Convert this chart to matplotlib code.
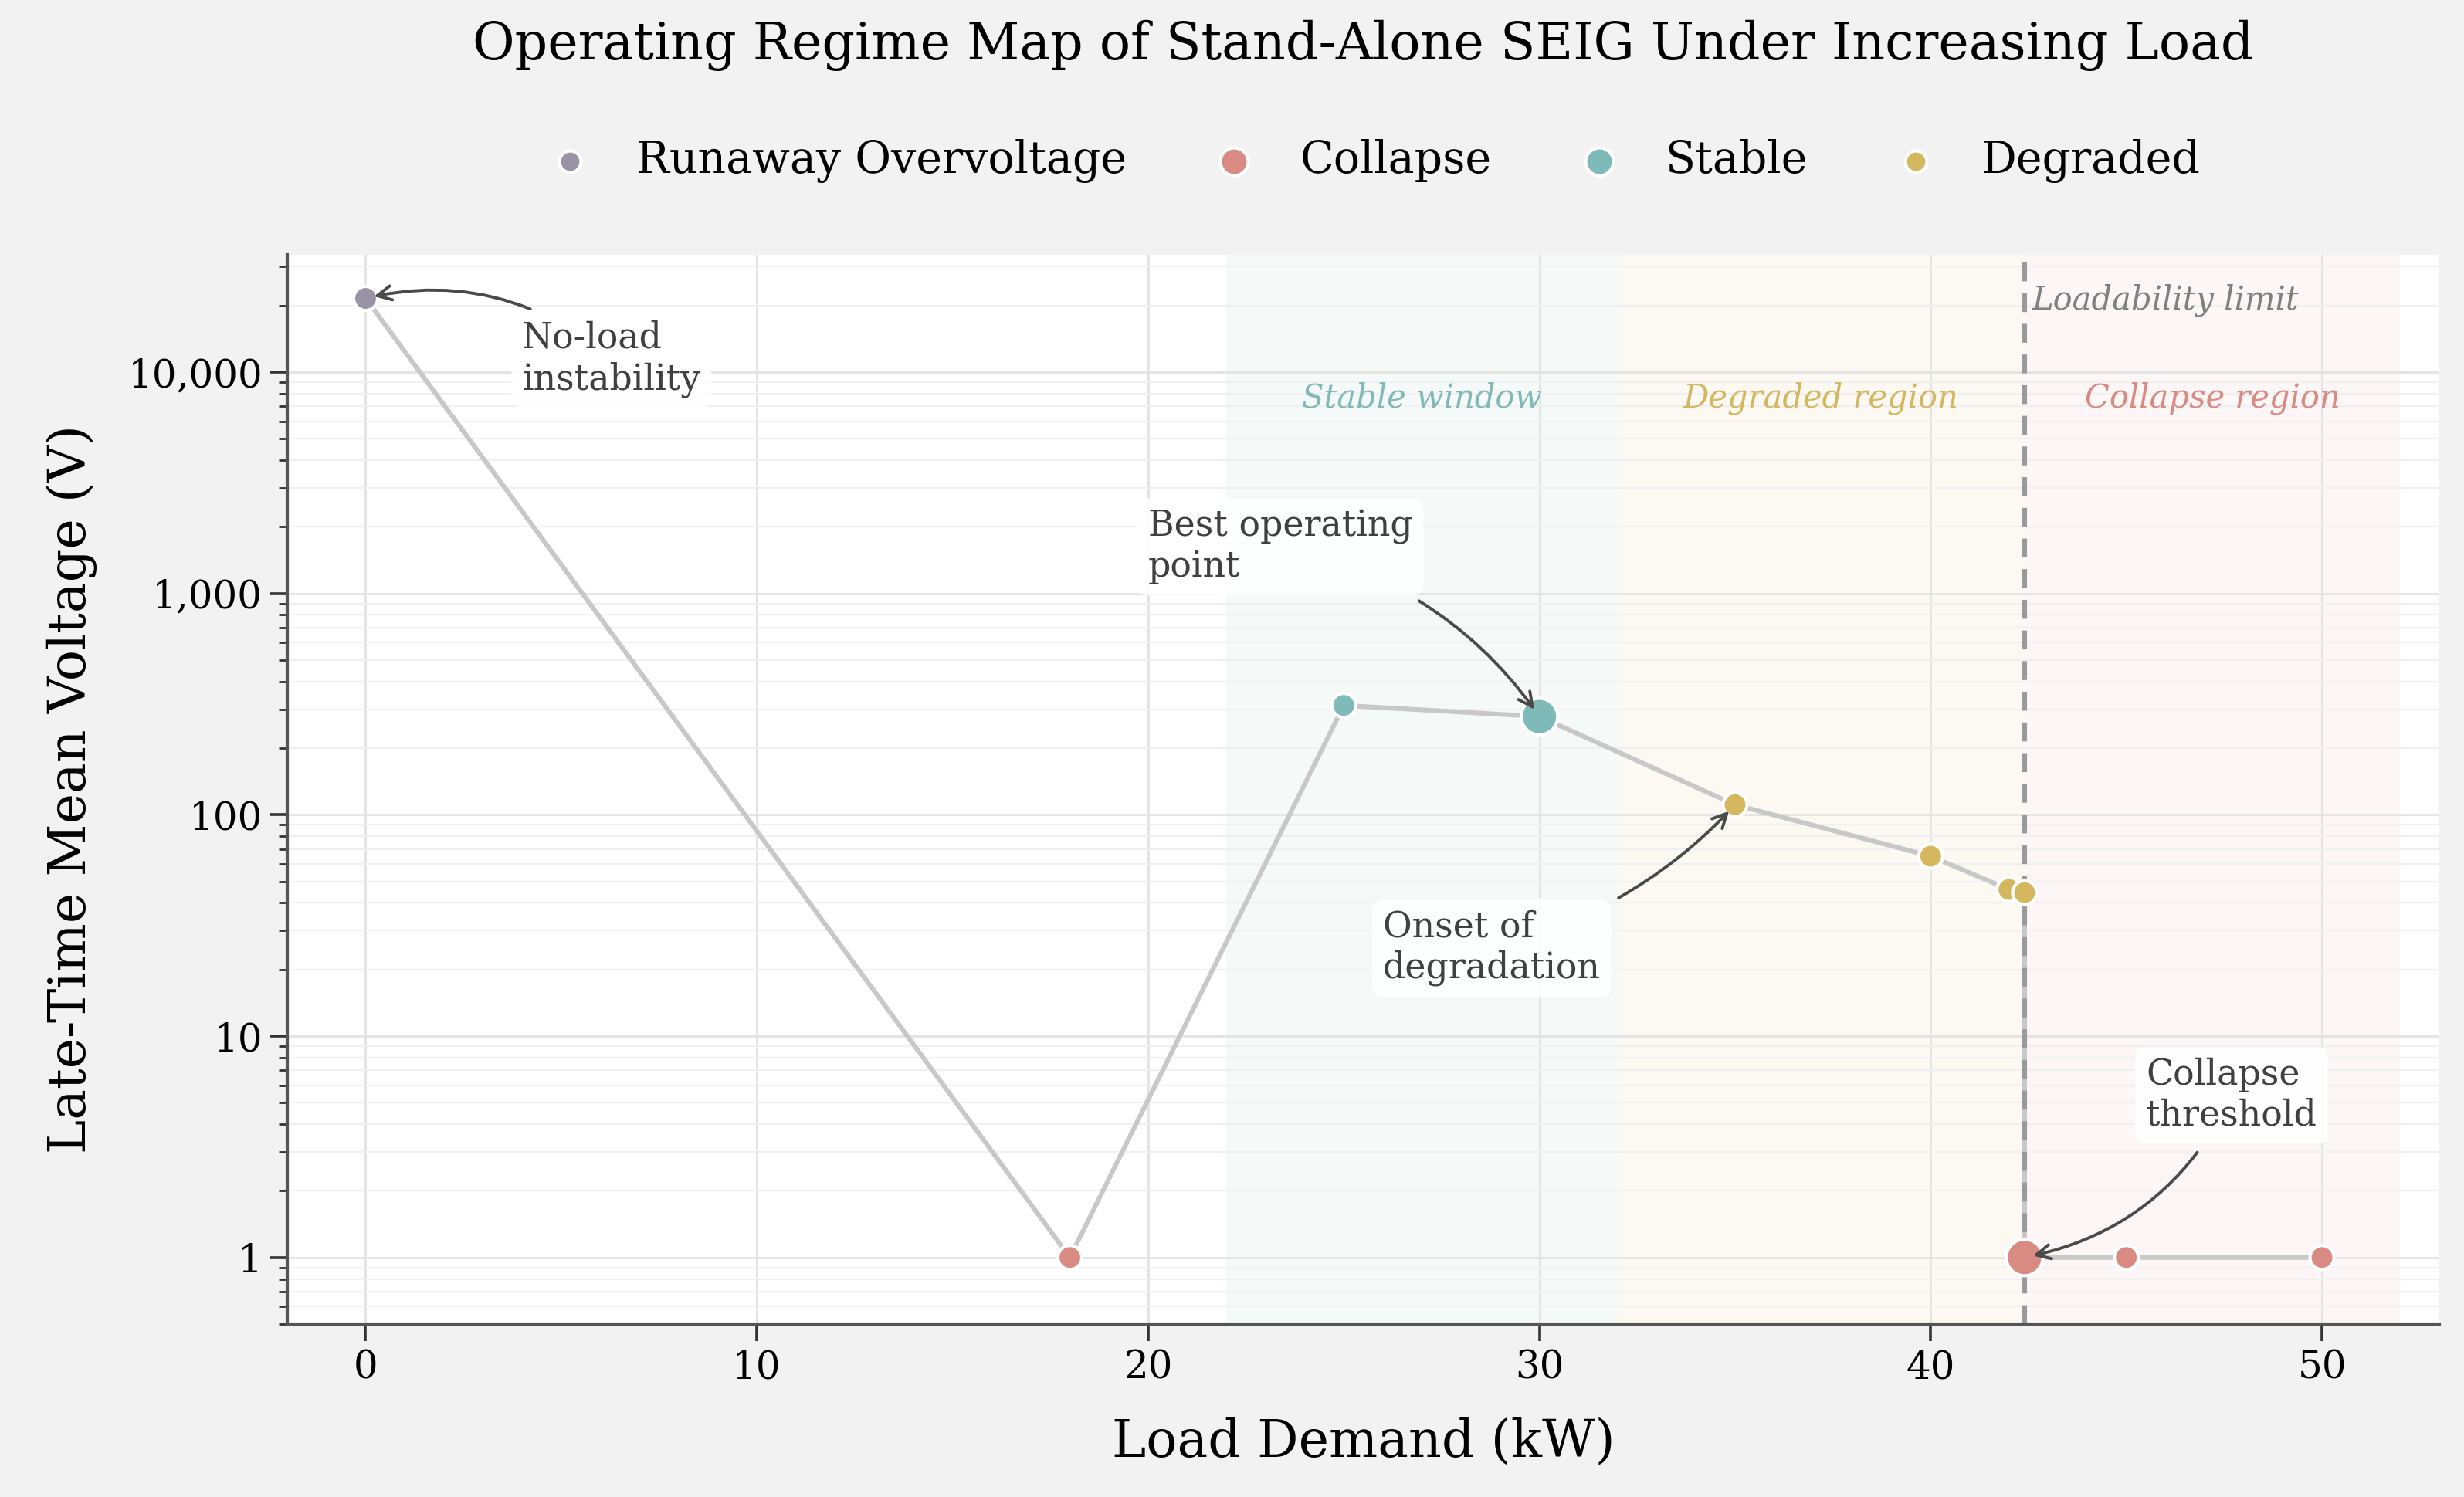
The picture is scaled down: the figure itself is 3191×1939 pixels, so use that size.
import matplotlib
matplotlib.use("Agg")
import matplotlib.pyplot as plt
from matplotlib.ticker import FuncFormatter, LogLocator
import matplotlib.transforms as mtransforms

plt.rcParams['font.family'] = ['DejaVu Serif']

# ---- data ----
load_kw = [0, 18, 25, 30, 35, 40, 42, 42.4, 42.4, 45, 50]
voltage = [21600, 1.0, 312, 278, 111, 65, 46, 44.5, 1.0, 1.0, 1.0]
regime = ["Runaway Overvoltage", "Collapse", "Stable", "Stable", "Degraded",
          "Degraded", "Degraded", "Degraded", "Collapse", "Collapse", "Collapse"]
highlight = [False, False, False, True, False, False, False, False, True, False, False]
regime_order = ["Runaway Overvoltage", "Collapse", "Stable", "Degraded"]
regime_colors = {"Runaway Overvoltage": "#9a93a5", "Collapse": "#d98a82",
                 "Stable": "#7fb9b8", "Degraded": "#d5b760"}
region_names = ["Stable window", "Degraded region", "Collapse region"]
region_bounds = [(22, 32), (32, 42.4), (42.4, 52)]
region_colors = ["#7fb9b8", "#d5b760", "#d98a82"]
loadability_limit = 42.4

fig = plt.figure(figsize=(15.955, 9.695), dpi=200, facecolor="#f2f2f2")
ax = fig.add_axes([0.1166, 0.1155, 0.8734, 0.7145])
ax.set_facecolor("white")

# regions
for (a, b), c in zip(region_bounds, region_colors):
    ax.axvspan(a, b, color=c, alpha=0.07, lw=0, zorder=0)

ax.set_yscale("log")
ax.set_xlim(-2.0, 53.0)
ax.set_ylim(0.5, 34000)

ax.grid(True, which="major", color="#e3e3e3", lw=1.0, zorder=0.5)
ax.grid(True, which="minor", axis="y", color="#f0f0f0", lw=0.8, zorder=0.5)
ax.set_axisbelow(True)

# connecting line
ax.plot(load_kw, voltage, color="#c8c8c8", lw=2.2, zorder=2)

# points
for r in regime_order:
    xs = [x for x, g in zip(load_kw, regime) if g == r]
    ys = [y for y, g in zip(voltage, regime) if g == r]
    ss = [290 if h else 125 for h, g in zip(highlight, regime) if g == r]
    ax.scatter(xs, ys, s=ss, color=regime_colors[r], edgecolor="white",
               linewidth=1.5, zorder=3, label=r)

# loadability limit
ax.axvline(loadability_limit, color="#9a9a9a", lw=2.2, ls=(0, (4, 2.5)), zorder=2.5)
trans = mtransforms.blended_transform_factory(ax.transData, ax.transAxes)
ax.text(loadability_limit + 0.2, 0.957, "Loadability limit", transform=trans,
        fontsize=15, style="italic", color="#808080", ha="left", va="center")

for name, (a, b), c in zip(region_names, region_bounds, region_colors):
    ax.text((a + b) / 2, 0.866, name, transform=trans, fontsize=15,
            style="italic", color=c, ha="center", va="center")

# annotations
bbox = dict(boxstyle="round,pad=0.3", fc="white", ec="none", alpha=0.9)
arrow = dict(arrowstyle="->", color="#4a4a4a", lw=1.4)
fs_ann = 16.5
ax.annotate("No-load\ninstability", xy=(0, 21600), xytext=(4, 7700),
            fontsize=fs_ann, color="#404040", ha="left", va="bottom", bbox=bbox,
            arrowprops=dict(arrow, connectionstyle="arc3,rad=0.25", shrinkA=2, shrinkB=4))
ax.annotate("Best operating\npoint", xy=(30, 278), xytext=(20, 1620),
            fontsize=fs_ann, color="#404040", ha="left", va="center", bbox=bbox,
            arrowprops=dict(arrow, connectionstyle="arc3,rad=-0.2", shrinkA=5, shrinkB=4))
ax.annotate("Onset of\ndegradation", xy=(35, 111), xytext=(26, 25),
            fontsize=fs_ann, color="#404040", ha="left", va="center", bbox=bbox,
            arrowprops=dict(arrow, connectionstyle="arc3,rad=0.15", shrinkA=5, shrinkB=4))
ax.annotate("Collapse\nthreshold", xy=(42.4, 1.0), xytext=(45.5, 5.4),
            fontsize=fs_ann, color="#404040", ha="left", va="center", bbox=bbox,
            arrowprops=dict(arrow, connectionstyle="arc3,rad=-0.25", shrinkA=5, shrinkB=4))

# axes styling
for s in ["top", "right"]:
    ax.spines[s].set_visible(False)
for s in ["left", "bottom"]:
    ax.spines[s].set_color("#555555")
    ax.spines[s].set_linewidth(1.5)
ax.yaxis.set_major_locator(LogLocator(base=10))
ax.yaxis.set_major_formatter(FuncFormatter(lambda v, p: f"{v:,.0f}"))
ax.tick_params(axis="both", which="major", labelsize=18, length=8, width=1.3, color="#333333")
ax.tick_params(axis="y", which="minor", length=4, width=1.0, color="#333333")
ax.set_xticks([0, 10, 20, 30, 40, 50])

ax.set_xlabel("Load Demand (kW)", fontsize=24, labelpad=14)
ax.set_ylabel("Late-Time Mean Voltage (V)", fontsize=24, labelpad=14)

ax.set_title("Operating Regime Map of Stand-Alone SEIG Under Increasing Load",
             fontsize=24, pad=91)
leg = ax.legend(loc="lower center", bbox_to_anchor=(0.5, 1.03), ncol=4,
                frameon=False, fontsize=20.5, markerscale=0.9, columnspacing=1.45,
                handletextpad=0.5)

fig.savefig("out.png", dpi=200, facecolor=fig.get_facecolor())
